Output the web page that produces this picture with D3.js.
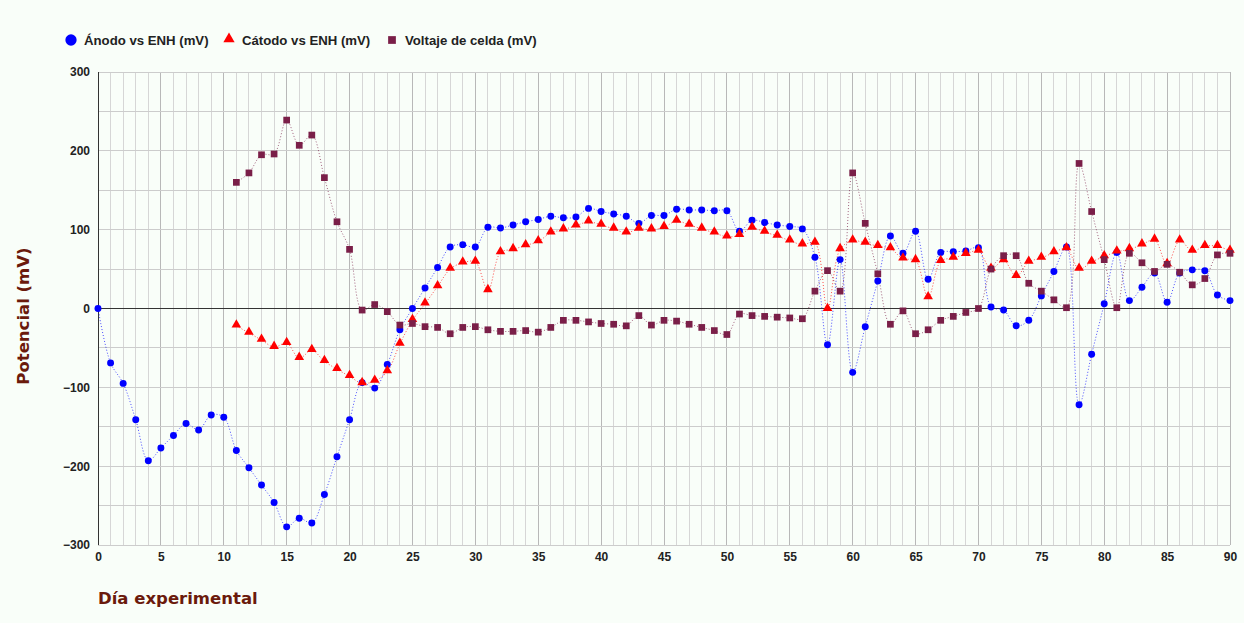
<!DOCTYPE html>
<html><head><meta charset="utf-8">
<script src="https://cdn.jsdelivr.net/npm/d3@7"></script>
<style>
html,body{margin:0;padding:0;background:#f9fef9;}
svg{display:block;}
</style></head>
<body>
<svg id="chart" width="1244" height="623"></svg>
<script>
const anodeDays = d3.range(0, 91);
const anodeValues = [0,-69,-95,-141,-193,-177,-161,-146,-154,-135,-138,-180,-202,-224,-246,-277,-266,-272,-236,-188,-141,-94,-101,-71,-27,0,26,52,78,81,78,103,102,106,110,113,117,115,116,127,123,120,117,108,118,118,126,125,125,124,124,98,112,109,106,104,101,65,-46,62,-81,-23,35,92,70,98,37,71,72,73,77,2,-2,-22,-15,16,47,78,-122,-58,6,71,10,27,45,8,45,49,48,17,10];
const cellDays = d3.range(11, 91);
const cathodeValues = [-22,-31,-40,-49,-44,-63,-53,-67,-77,-86,-95,-92,-80,-45,-15,6,28,50,58,59,23,71,75,80,85,96,100,105,110,106,101,96,101,100,103,111,106,101,96,91,93,102,97,92,86,81,83,-1,75,86,83,79,76,63,61,14,60,64,69,73,50,61,41,59,64,71,76,50,59,66,72,75,81,87,56,86,73,79,79,73];
const voltageValues = [160,172,195,196,239,207,220,166,110,75,-2,5,-4,-21,-19,-23,-24,-32,-24,-23,-27,-29,-29,-28,-30,-24,-15,-15,-17,-19,-20,-22,-9,-21,-15,-16,-20,-24,-28,-33,-7,-9,-10,-11,-12,-13,22,48,22,172,108,44,-20,-3,-32,-27,-15,-10,-5,0,50,67,67,32,22,11,1,184,123,62,1,70,58,47,56,46,30,38,68,70];
const xTicks = [0,5,10,15,20,25,30,35,40,45,50,55,60,65,70,75,80,85,90];
const yTicks = [-300,-200,-100,0,100,200,300];
const seriesNames = ["Ánodo vs ENH (mV)","Cátodo vs ENH (mV)","Voltaje de celda (mV)"];
const seriesColors = ["#0000ff","#ff0000","#7a1f48"];

const svg = d3.select("#chart");
svg.append("rect").attr("width",1244).attr("height",623).attr("fill","#f9fef9");
const L=98, R=1230, T=72, B=545;
const x = d3.scaleLinear().domain([0,90]).range([L,R]);
const y = d3.scaleLinear().domain([-300,300]).range([B,T]);

const grid = svg.append("g");
d3.range(0,91).forEach(d=>{
  grid.append("line").attr("x1",x(d)).attr("x2",x(d)).attr("y1",T).attr("y2",B)
    .attr("stroke", d%5===0 ? "#b8b8b8" : "#d6d6d6").attr("stroke-width",1).attr("shape-rendering","crispEdges");
});
d3.range(-300,301,50).forEach(v=>{
  grid.append("line").attr("x1",L).attr("x2",R).attr("y1",y(v)).attr("y2",y(v))
    .attr("stroke", "#cccccc").attr("stroke-width",1).attr("shape-rendering","crispEdges");
});
svg.append("line").attr("x1",L).attr("x2",R).attr("y1",y(0)).attr("y2",y(0)).attr("stroke","#333").attr("shape-rendering","crispEdges");
svg.append("line").attr("x1",L).attr("x2",L).attr("y1",T).attr("y2",B).attr("stroke","#333").attr("shape-rendering","crispEdges");

const yAxis = d3.axisLeft(y).tickValues(yTicks).tickSize(0).tickPadding(8);
const gy = svg.append("g").attr("transform",`translate(${L},0)`).call(yAxis);
gy.select(".domain").remove();
gy.selectAll("text").attr("font-family","Arial, 'Liberation Sans', sans-serif").attr("font-size",12).attr("font-weight","bold").attr("fill","#222");
const xAxis = d3.axisBottom(x).tickValues(xTicks).tickSize(0).tickPadding(7);
const gx = svg.append("g").attr("transform",`translate(0,${B})`).call(xAxis);
gx.select(".domain").remove();
gx.selectAll("text").attr("font-family","Arial, 'Liberation Sans', sans-serif").attr("font-size",12).attr("font-weight","bold").attr("fill","#222");

svg.append("text").attr("x",98).attr("y",604).text("Día experimental")
  .attr("font-family","'DejaVu Sans', Verdana, sans-serif").attr("font-size",16.5).attr("font-weight","bold").attr("fill","#6b1a0c");
svg.append("text").attr("transform","translate(29,316) rotate(-90)").attr("text-anchor","middle").text("Potencial (mV)")
  .attr("font-family","'DejaVu Sans', Verdana, sans-serif").attr("font-size",16.5).attr("font-weight","bold").attr("fill","#6b1a0c");

const series = [
  {days: anodeDays, vals: anodeValues, color: seriesColors[0], shape: "circle"},
  {days: cellDays, vals: cathodeValues, color: seriesColors[1], shape: "triangle"},
  {days: cellDays, vals: voltageValues, color: seriesColors[2], shape: "square"}
];
const line = d3.line().x(d=>x(d[0])).y(d=>y(d[1])).curve(d3.curveCatmullRom.alpha(0.5));
const plot = svg.append("g");
series.forEach(s=>{
  const pts = s.days.map((d,i)=>[d,s.vals[i]]);
  plot.append("path").attr("d",line(pts)).attr("fill","none").attr("stroke",s.color)
    .attr("stroke-width",1).attr("stroke-dasharray","1,2").attr("opacity",0.7);
});
const sym = {circle: d3.symbol().type(d3.symbolCircle).size(38),
             triangle: d3.symbol().type(d3.symbolTriangle).size(40),
             square: d3.symbol().type(d3.symbolSquare).size(45)};
series.forEach(s=>{
  const pts = s.days.map((d,i)=>[d,s.vals[i]]);
  plot.selectAll(null).data(pts).enter().append("path")
    .attr("d", sym[s.shape]())
    .attr("transform", d=>`translate(${x(d[0])},${y(d[1]) + (s.shape==="triangle"?-1:0)})`)
    .attr("fill", s.color);
});

const lg = svg.append("g");
const legendX = [71, 229, 392];
seriesNames.forEach((n,i)=>{
  const shape = ["circle","triangle","square"][i];
  const sz = shape==="circle"?100:(shape==="triangle"?55:60);
  lg.append("path").attr("d", d3.symbol().type(shape==="circle"?d3.symbolCircle:shape==="triangle"?d3.symbolTriangle:d3.symbolSquare).size(sz)())
    .attr("transform",`translate(${legendX[i]},${shape==="triangle"?39:40})`).attr("fill",seriesColors[i]);
  lg.append("text").attr("x",legendX[i]+13).attr("y",45).text(n)
    .attr("font-family","Arial, 'Liberation Sans', sans-serif").attr("font-size",13.2).attr("font-weight","bold").attr("fill","#222");
});
</script>
</body></html>
